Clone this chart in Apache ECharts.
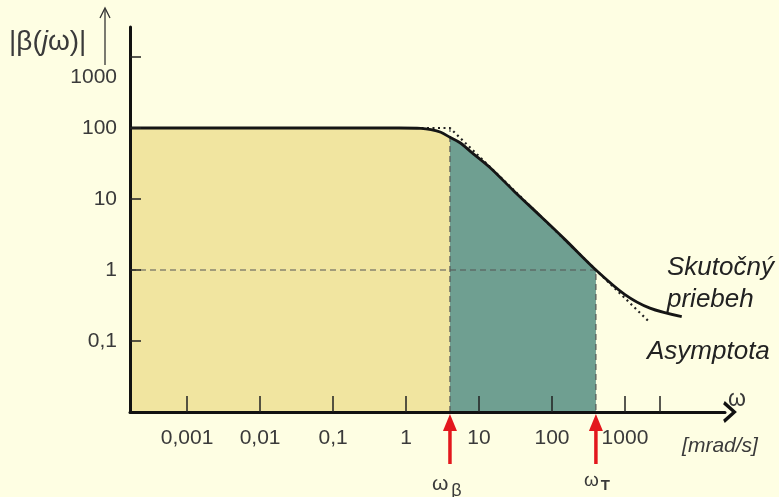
<!DOCTYPE html>
<html>
<head>
<meta charset="utf-8">
<script src="https://cdn.jsdelivr.net/npm/echarts@6/dist/echarts.min.js"></script>
<style>
html,body{margin:0;padding:0;background:#fefee3;}
#c{width:779px;height:497px;}
</style>
</head>
<body>
<div id="c"></div>
<script>
// ---- data ----
const xTickLabels = [0.001, 0.01, 0.1, 1, 10, 100, 1000];
const xTickMarks = [0.001, 0.01, 0.1, 1, 10, 100, 1000, 3000];
const yTickLabels = [0.1, 1, 10, 100, 1000];
const xMin = 1.65e-4, xMax = 23500;
const yMin = 0.01, yMax = 2646;
const omegaB = 4;      // ω_β
const omegaT = 400;    // ω_T
const beta0 = 100;
const actualX = [0.000165, 0.8, 1.6, 2.2, 3, 4, 5.5, 8, 14, 30, 70, 150, 400, 1000, 2200, 6000];
const actualY = [100, 100, 99, 95, 87, 74, 62, 45, 28, 13, 5.7, 2.7, 1.0, 0.45, 0.29, 0.22];
// asymptote (Asymptota)
const asymX = [0.000165, 4, 2200];
const asymY = [100, 100, 0.182];

const actual = actualX.map((x, i) => [x, actualY[i]]);
const asym = asymX.map((x, i) => [x, asymY[i]]);
const yellowFill = actual.filter(p => p[0] <= omegaB);
const tealFill = actual.filter(p => p[0] >= omegaB && p[0] <= omegaT);

const fmt = v => String(v).replace('.', ',');
const chart = echarts.init(document.getElementById('c'));
const txt = '#3a3a3a';
const font = 'Liberation Sans, Arial, sans-serif';
chart.setOption({
  backgroundColor: '#fefee3',
  animation: false,
  grid: {left: 130, right: 54, top: 27, bottom: 85},
  xAxis: {
    type: 'log', min: xMin, max: xMax, z: 10,
    axisLine: {show: true, lineStyle: {color: '#111', width: 3},
      symbol: ['none', 'path://M0,11 L10,0 L20,11 L17,12.5 L10,4.5 L3,12.5 Z'],
      symbolSize: [22, 15], symbolOffset: [0, 5]},
    axisTick: {show: true, inside: true, length: 16, lineStyle: {color: '#222', width: 1.5}, customValues: xTickMarks},
    minorTick: {show: false},
    axisLabel: {customValues: xTickLabels, formatter: fmt, fontSize: 21, color: txt, margin: 16, fontFamily: font},
    splitLine: {show: false}
  },
  yAxis: {
    type: 'log', min: yMin, max: yMax, z: 10,
    axisLine: {show: true, lineStyle: {color: '#111', width: 3}},
    axisTick: {show: true, inside: true, length: 11, lineStyle: {color: '#222', width: 1.5}, customValues: yTickLabels},
    axisLabel: {customValues: yTickLabels, fontSize: 21, color: txt, margin: 13, fontFamily: font,
      formatter: v => v >= 1000 ? '{low|' + fmt(v) + '}' : fmt(v),
      rich: {low: {fontSize: 21, color: txt, fontFamily: font, padding: [40, 0, 0, 0]}}},
    splitLine: {show: false}
  },
  series: [
    {type: 'line', data: yellowFill, showSymbol: false, smooth: 0.3, z: 1,
     lineStyle: {width: 0}, areaStyle: {color: '#f1e5a0', opacity: 1, origin: 'start'}},
    {type: 'line', data: tealFill, showSymbol: false, smooth: 0.3, z: 1,
     lineStyle: {width: 0}, areaStyle: {color: '#6f9f91', opacity: 1, origin: 'start'}},
    {type: 'line', data: [[xMin, 1], [omegaT, 1], [omegaT, yMin]], showSymbol: false, z: 2,
     lineStyle: {color: '#555', width: 1.2, type: [6, 4]}},
    {type: 'line', data: [[omegaB, yMin], [omegaB, beta0]], showSymbol: false, z: 2,
     lineStyle: {color: '#555', width: 1.2, type: [6, 4]}},
    {type: 'line', data: asym, showSymbol: false, z: 3,
     lineStyle: {color: '#222', width: 2.2, type: [2, 3.5]}},
    {type: 'line', data: actual, showSymbol: false, smooth: 0.3, z: 4,
     lineStyle: {color: '#151515', width: 2.8}}
  ]
});

function arrow(x, yTip) {
  return [
    {type: 'line', shape: {x1: x, y1: yTip + 50, x2: x, y2: yTip + 14}, style: {stroke: '#e3171d', lineWidth: 3.5}},
    {type: 'polygon', shape: {points: [[x, yTip], [x - 7, yTip + 17], [x + 7, yTip + 17]]}, style: {fill: '#e3171d'}}
  ];
}
const pB = chart.convertToPixel({xAxisIndex: 0, yAxisIndex: 0}, [omegaB, yMin]);
const pT = chart.convertToPixel({xAxisIndex: 0, yAxisIndex: 0}, [omegaT, yMin]);
const g = [].concat(arrow(pB[0], pB[1] + 2), arrow(pT[0], pT[1] + 2), [
  {type: 'text', x: pB[0] - 18, y: 468, style: {text: '{w|ω}{s|β}', rich: {
    w: {fontSize: 21, fill: txt, fontFamily: font},
    s: {fontSize: 18, fill: txt, fontFamily: font, padding: [14, 0, 0, 3]}}}},
  {type: 'text', x: pT[0] - 12, y: 468, style: {text: '{w|ω}{s|T}', rich: {
    w: {fontSize: 19, fill: txt, fontFamily: font},
    s: {fontSize: 15, fill: txt, fontFamily: font, fontWeight: 'bold', padding: [10, 0, 0, 2]}}}},
  {type: 'text', x: 737, y: 400, style: {text: 'ω', fontSize: 23, fill: txt, fontFamily: font, align: 'center', verticalAlign: 'middle'}},
  {type: 'text', x: 720, y: 446, style: {text: '[mrad/s]', fontSize: 21, fontStyle: 'italic', fill: txt, fontFamily: font, align: 'center', verticalAlign: 'middle'}},
  {type: 'text', x: 667, y: 268, style: {text: 'Skutočný', fontSize: 26, fontStyle: 'italic', fill: '#222', fontFamily: font, verticalAlign: 'middle'}},
  {type: 'text', x: 667, y: 300, style: {text: 'priebeh', fontSize: 26, fontStyle: 'italic', fill: '#222', fontFamily: font, verticalAlign: 'middle'}},
  {type: 'text', x: 647, y: 352, style: {text: 'Asymptota', fontSize: 26, fontStyle: 'italic', fill: '#222', fontFamily: font, verticalAlign: 'middle'}},
  {type: 'text', x: 9, y: 42, style: {text: '{n||β(}{i|j}{n|ω)|}', verticalAlign: 'middle', rich: {
    n: {fontSize: 28, fill: txt, fontFamily: font},
    i: {fontSize: 28, fill: txt, fontFamily: font, fontStyle: 'italic'}}}},
  {type: 'line', shape: {x1: 105, y1: 65, x2: 105, y2: 9}, style: {stroke: '#333', lineWidth: 1.3}},
  {type: 'polyline', shape: {points: [[100, 18], [105, 8], [110, 18]]}, style: {stroke: '#333', lineWidth: 1.3, fill: null}}
]);
chart.setOption({graphic: g});
</script>
</body>
</html>
